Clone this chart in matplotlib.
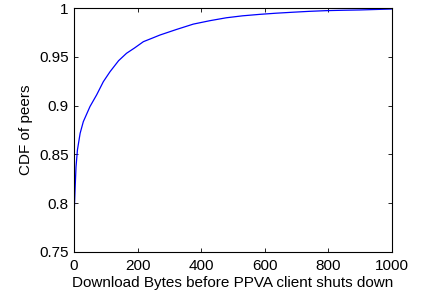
import matplotlib
matplotlib.use("Agg")
import matplotlib.pyplot as plt

download_bytes = [0, 3, 6, 10.5, 19, 29, 50, 71, 92, 113, 140, 165, 190, 218,
                  245, 270, 322, 375, 427, 479, 530, 584, 636, 689, 740, 793,
                  845, 898, 950, 1000]
cdf_peers = [0.788, 0.8135, 0.837, 0.8545, 0.8716, 0.8835, 0.899, 0.911,
             0.9245, 0.9347, 0.946, 0.9536, 0.959, 0.9655, 0.969, 0.9723,
             0.978, 0.9835, 0.987, 0.990, 0.992, 0.9935, 0.9947, 0.9957,
             0.9966, 0.9973, 0.9977, 0.998, 0.9985, 0.999]

plt.rcParams['font.family'] = ['Liberation Sans', 'DejaVu Sans']
plt.rcParams['font.size'] = 11

fig = plt.figure(figsize=(4.21, 2.97), dpi=100)
ax = fig.add_axes([0.176, 0.152, 0.755, 0.821])

ax.plot(download_bytes, cdf_peers, '-', c='blue', lw=0.9)

ax.set_xlim(0, 1000)
ax.set_ylim(0.75, 1)
ax.set_xticks([0, 200, 400, 600, 800, 1000])
ax.set_yticks([0.75, 0.8, 0.85, 0.9, 0.95, 1])
ax.set_yticklabels(['0.75', '0.8', '0.85', '0.9', '0.95', '1'])
ax.tick_params(direction='in', top=True, right=True, length=3, width=0.6)
ax.tick_params(axis='x', pad=5)
ax.tick_params(axis='y', pad=4)
for s in ax.spines.values():
    s.set_linewidth(0.8)

ax.set_xlabel('Download Bytes before PPVA client shuts down', labelpad=2)
ax.set_ylabel('CDF of peers', labelpad=4)

plt.savefig("out.png", dpi=100)
